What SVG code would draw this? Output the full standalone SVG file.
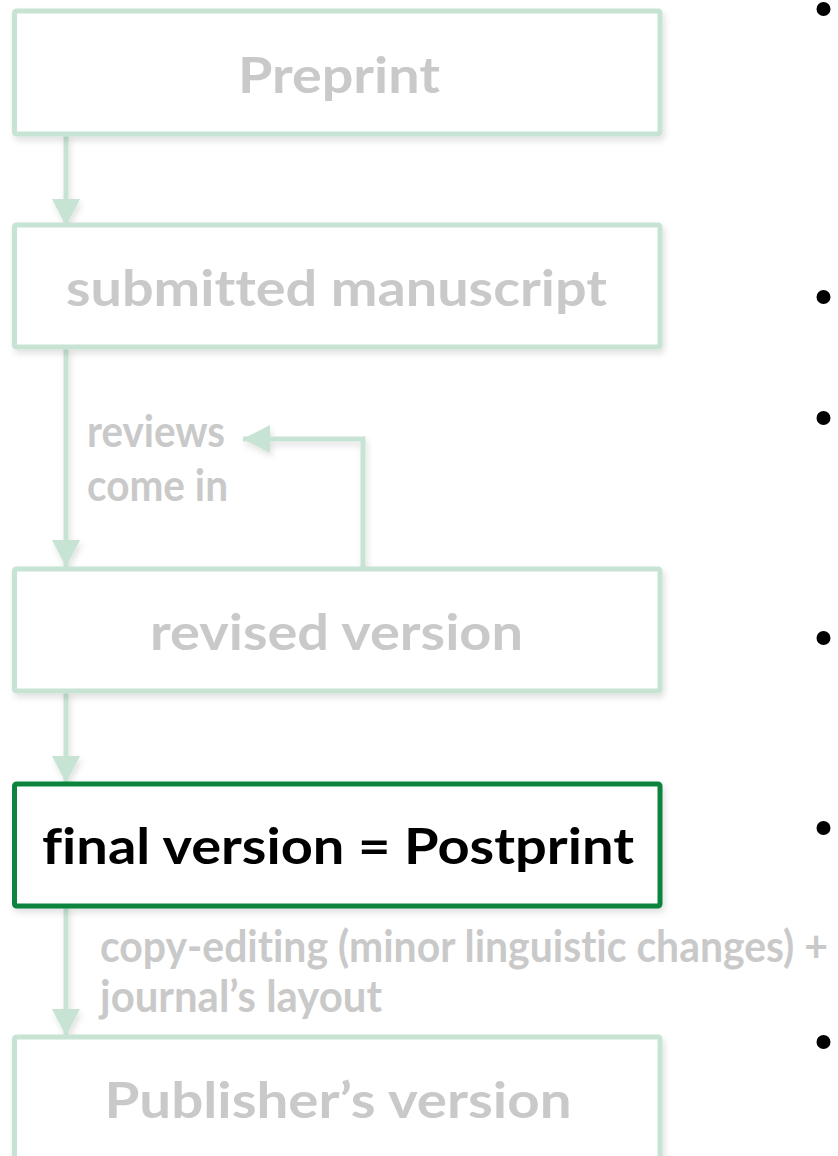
<svg xmlns="http://www.w3.org/2000/svg" width="838" height="1156" viewBox="0 0 838 1156">
<style>
text{font-variant-ligatures:none;font-feature-settings:"liga" 0}
.box{fill:#ffffff;stroke:#c6e3d3;stroke-width:5}
.active{fill:#ffffff;stroke:#0a843d;stroke-width:5}
.title{font-family:Lato,"Liberation Sans",sans-serif;font-weight:bold;font-size:50px;fill:#c9c9c9}
.titleA{font-family:Lato,"Liberation Sans",sans-serif;font-weight:bold;font-size:50px;fill:#000000}
.lbl{font-family:Lato,"Liberation Sans",sans-serif;font-weight:bold;font-size:43px;fill:#c9c9c9}
.con{fill:none;stroke:#c6e3d3;stroke-width:5}
.bullet{fill:#000000}
</style>
<defs>
<filter id="sh" x="-5%" y="-10%" width="115%" height="130%">
<feDropShadow dx="2" dy="4" stdDeviation="3" flood-color="#000000" flood-opacity="0.12"/>
</filter>
<marker id="ah" markerUnits="userSpaceOnUse" markerWidth="28" markerHeight="28" refX="27" refY="14" orient="auto" viewBox="0 0 28 28">
<path d="M0,0 L27,14 L0,28 Z" fill="#c6e3d3"/>
</marker>
</defs>

<g id="connectors" filter="url(#sh)">
<path class="con" d="M66,134 V226" marker-end="url(#ah)"/>
<path class="con" d="M66,347 V567" marker-end="url(#ah)"/>
<path class="con" d="M363,569 V439 H243" marker-end="url(#ah)"/>
<path class="con" d="M66,691 V783" marker-end="url(#ah)"/>
<path class="con" d="M66,906 V1036" marker-end="url(#ah)"/>
</g>

<g id="preprint">
<rect class="box" x="14.5" y="11" width="645.5" height="123" rx="2" filter="url(#sh)"/>
<text class="title" x="339" y="93" text-anchor="middle" textLength="202" lengthAdjust="spacingAndGlyphs">Preprint</text>
</g>

<g id="submitted">
<rect class="box" x="14.5" y="225" width="645.5" height="122" rx="2" filter="url(#sh)"/>
<text class="title" x="336.5" y="306" text-anchor="middle" textLength="541" lengthAdjust="spacingAndGlyphs">submitted manuscript</text>
</g>

<g id="revised">
<rect class="box" x="14.5" y="569" width="645.5" height="122" rx="2" filter="url(#sh)"/>
<text class="title" x="336.5" y="650" text-anchor="middle" textLength="373" lengthAdjust="spacingAndGlyphs">revised version</text>
</g>

<g id="final">
<rect class="active" x="14.5" y="784" width="645.5" height="122" rx="2" filter="url(#sh)"/>
<text class="titleA" x="338" y="864" text-anchor="middle" textLength="592" lengthAdjust="spacingAndGlyphs">final version = Postprint</text>
</g>

<g id="publisher">
<rect class="box" x="14.5" y="1037" width="645.5" height="200" rx="2" filter="url(#sh)"/>
<text class="title" x="338" y="1118" text-anchor="middle" textLength="467" lengthAdjust="spacingAndGlyphs">Publisher’s version</text>
</g>

<g id="labels">
<text class="lbl" x="87" y="447" textLength="138" lengthAdjust="spacingAndGlyphs">reviews</text>
<text class="lbl" x="87" y="501" textLength="141" lengthAdjust="spacingAndGlyphs">come in</text>
<text class="lbl" x="100" y="962" textLength="728" lengthAdjust="spacingAndGlyphs">copy-editing (minor linguistic changes) +</text>
<text class="lbl" x="100" y="1012" textLength="282" lengthAdjust="spacingAndGlyphs">journal’s layout</text>
</g>

<g id="bullets">
<circle class="bullet" cx="823.5" cy="9" r="7"/>
<circle class="bullet" cx="823.5" cy="297" r="7"/>
<circle class="bullet" cx="823.5" cy="418" r="7"/>
<circle class="bullet" cx="823.5" cy="638" r="7"/>
<circle class="bullet" cx="823.5" cy="828" r="7"/>
<circle class="bullet" cx="823.5" cy="1042" r="7"/>
</g>
</svg>
